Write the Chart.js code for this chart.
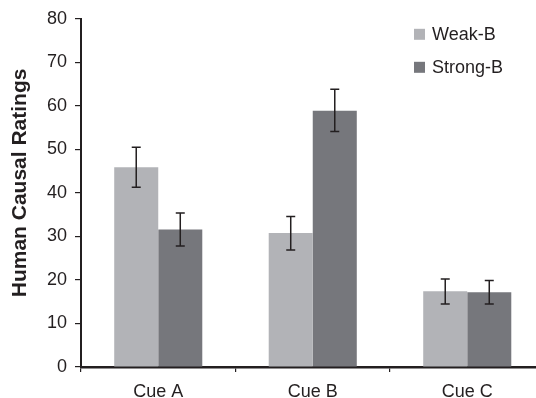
<!DOCTYPE html>
<html>
<head>
<meta charset="utf-8">
<script src="https://cdn.jsdelivr.net/npm/chart.js@4/dist/chart.umd.min.js"></script>
<style>
  html, body { margin: 0; padding: 0; background: #fff; overflow: hidden; }
  #chart { display: block; }
</style>
</head>
<body>
<canvas id="chart" width="548" height="398"></canvas>
<script>
// data
const cues = ["Cue A", "Cue B", "Cue C"];
const weakB = [45.9, 30.8, 17.4];
const weakLow = [41.3, 26.9, 14.5];
const weakHigh = [50.5, 34.6, 20.2];
const strongB = [31.6, 58.9, 17.2];
const strongLow = [27.8, 54.1, 14.5];
const strongHigh = [35.4, 63.8, 19.9];
const yTicks = [0, 10, 20, 30, 40, 50, 60, 70, 80];
const yTitle = "Human Causal Ratings";

const ink = "#231f20";
const lightGrey = "#b2b3b7";
const darkGrey = "#76777c";
const font = "'Liberation Sans', Arial, Helvetica, sans-serif";

// error bars drawn from the bar elements and the y scale
const errorBars = {
  id: "errorBars",
  afterDatasetsDraw(chart) {
    const ctx = chart.ctx;
    const y = chart.scales.y;
    ctx.save();
    ctx.strokeStyle = ink;
    ctx.lineWidth = 1.5;
    chart.data.datasets.forEach((ds, i) => {
      chart.getDatasetMeta(i).data.forEach((bar, j) => {
        const top = y.getPixelForValue(ds.high[j]);
        const bot = y.getPixelForValue(ds.low[j]);
        const cap = 4.5;
        ctx.beginPath();
        ctx.moveTo(bar.x, top); ctx.lineTo(bar.x, bot);
        ctx.moveTo(bar.x - cap, top); ctx.lineTo(bar.x + cap, top);
        ctx.moveTo(bar.x - cap, bot); ctx.lineTo(bar.x + cap, bot);
        ctx.stroke();
      });
    });
    ctx.restore();
  }
};

// legend inside the plot and rotated y title
const extras = {
  id: "extras",
  afterDraw(chart) {
    const ctx = chart.ctx;
    const area = chart.chartArea;
    ctx.save();
    ctx.font = "18px " + font;
    ctx.textBaseline = "middle";
    ctx.textAlign = "left";
    chart.data.datasets.forEach((ds, i) => {
      const cy = area.top + 15.5 + i * 33;
      ctx.fillStyle = ds.backgroundColor;
      ctx.fillRect(414, cy - 5.5, 11, 11);
      ctx.fillStyle = ink;
      ctx.fillText(ds.label, 432, cy + 1);
    });
    ctx.translate(19, (area.top + area.bottom) / 2 - 10);
    ctx.rotate(-Math.PI / 2);
    ctx.textAlign = "center";
    ctx.font = "bold 21px " + font;
    ctx.fillText(yTitle, 0, 1);
    ctx.restore();
  }
};

new Chart(document.getElementById("chart"), {
  type: "bar",
  data: {
    labels: cues,
    datasets: [
      { label: "Weak-B", data: weakB, low: weakLow, high: weakHigh, backgroundColor: lightGrey },
      { label: "Strong-B", data: strongB, low: strongLow, high: strongHigh, backgroundColor: darkGrey }
    ]
  },
  options: {
    responsive: false,
    animation: false,
    devicePixelRatio: 1,
    layout: { padding: { top: 17, right: 3.5, left: 0, bottom: 0 } },
    categoryPercentage: 0.57,
    barPercentage: 1.0,
    plugins: { legend: { display: false }, tooltip: { enabled: false } },
    scales: {
      x: {
        grid: { drawOnChartArea: false, tickLength: 5, tickColor: ink, lineWidth: 1.2 },
        border: { color: ink, width: 2.5 },
        ticks: { color: ink, padding: 9, font: { family: font, size: 18 } },
        afterFit(scale) { scale.height = 31; }
      },
      y: {
        min: 0,
        max: 80,
        afterBuildTicks(scale) { scale.ticks = yTicks.map(v => ({ value: v })); },
        grid: { drawOnChartArea: false, tickLength: 6, tickColor: ink, lineWidth: 1.2 },
        border: { color: ink, width: 2 },
        ticks: { color: ink, padding: 8, font: { family: font, size: 18 } },
        afterFit(scale) { scale.width = 81; }
      }
    }
  },
  plugins: [errorBars, extras]
});
</script>
</body>
</html>
